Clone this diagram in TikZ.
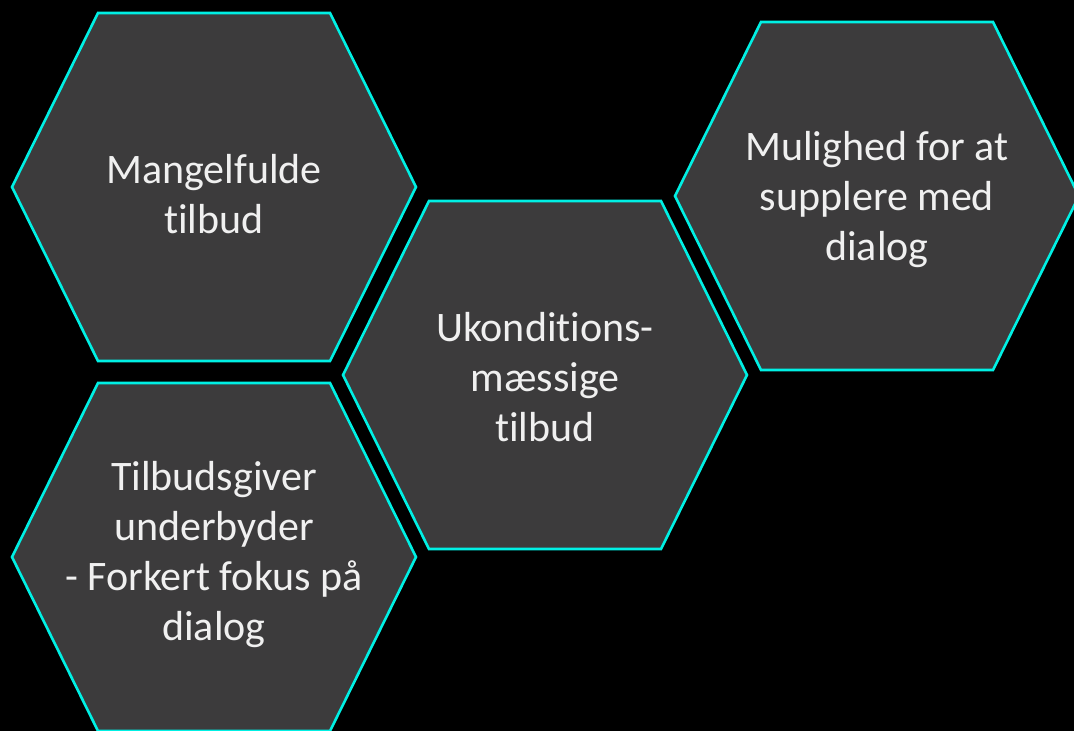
\documentclass[tikz,border=0pt]{standalone}
\usepackage{fontspec}
\setmainfont{Carlito}[Ligatures=NoCommon]
\definecolor{hexfill}{RGB}{60,59,60}
\definecolor{hexline}{RGB}{0,240,228}
\def\hexagon(#1,#2){\draw[hexcell] ({#1-202},#2) -- ({#1-116},{#2-174}) -- ({#1+116},{#2-174}) -- ({#1+202},#2) -- ({#1+116},{#2+174}) -- ({#1-116},{#2+174}) -- cycle;}

\begin{document}
\begin{tikzpicture}[x=1pt, y=-1pt,
	hexcell/.style={fill=hexfill, draw=hexline, line width=2.6pt, line join=miter},
	hextext/.style={text=white!94!black, align=center, font=\fontsize{42}{50}\selectfont}]
		%%%%% START %%%%%
		\fill[black] (0, 0) rectangle (1074, 731);
		\clip (0, 0) rectangle (1074, 731);
		
		\hexagon(214,187)
		\hexagon(545,375)
		\hexagon(877,196)
		\hexagon(214,557)
		
		\node[hextext] (mangel) at (214, 194) {Mangelfulde\\tilbud};
		\node[hextext] (ukond) at (545, 377) {Ukonditions-\\mæssige\\tilbud};
		\node[hextext] (mulig) at (877, 200) {Mulighed for at\\supplere med\\dialog};
		\node[hextext] (under) at (214, 555) {Tilbudsgiver\\underbyder\\- Forkert fokus på\\dialog};
		%%%%% END %%%%%
	\end{tikzpicture}
\end{document}
